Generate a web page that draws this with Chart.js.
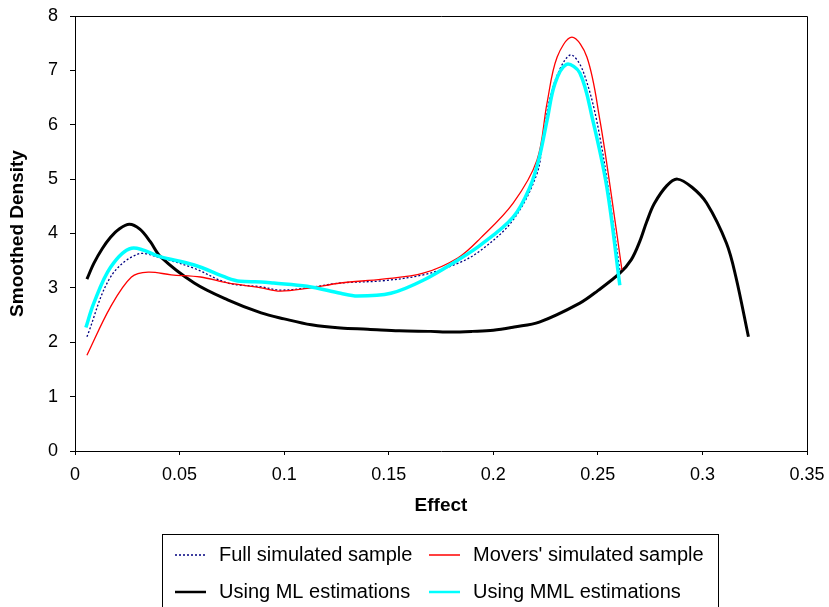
<!DOCTYPE html>
<html>
<head>
<meta charset="utf-8">
<script src="https://cdn.jsdelivr.net/npm/chart.js@4.4.1/dist/chart.umd.min.js"></script>
<style>
  html, body { margin: 0; padding: 0; background: #fff; }
  #wrap { width: 829px; height: 607px; }
</style>
</head>
<body>
<div id="wrap"><canvas id="densityChart" width="829" height="607"></canvas></div>
<script>
// Full simulated sample
const fullX = [0.0057, 0.017, 0.030, 0.041, 0.057, 0.073, 0.089, 0.098, 0.111, 0.127, 0.147, 0.1665, 0.183, 0.194, 0.2095, 0.2209, 0.2238, 0.2285, 0.2366, 0.2428, 0.251, 0.2605];
const fullY = [2.10, 3.20, 3.62, 3.55, 3.36, 3.09, 3.02, 2.96, 3.00, 3.09, 3.13, 3.24, 3.45, 3.69, 4.25, 5.10, 5.77, 6.69, 7.28, 7.00, 5.77, 3.33];

// Movers' simulated sample
const moversX = [0.0057, 0.017, 0.027, 0.035, 0.046, 0.060, 0.073, 0.089, 0.098, 0.111, 0.127, 0.147, 0.1665, 0.183, 0.194, 0.2095, 0.2209, 0.2257, 0.2305, 0.2376, 0.2448, 0.251, 0.257, 0.2615];
const moversY = [1.76, 2.65, 3.20, 3.29, 3.24, 3.20, 3.09, 3.00, 2.94, 2.99, 3.09, 3.16, 3.27, 3.55, 3.92, 4.56, 5.35, 6.40, 7.24, 7.61, 7.24, 6.08, 4.56, 3.33];

// Using ML estimations
const mlX = [0.0057, 0.009, 0.013, 0.017, 0.021, 0.026, 0.031, 0.036, 0.041, 0.057, 0.073, 0.089, 0.100, 0.113, 0.127, 0.140, 0.155, 0.170, 0.180, 0.190, 0.200, 0.210, 0.222, 0.2414, 0.250, 0.2605, 0.266, 0.270, 0.2734, 0.277, 0.283, 0.288, 0.295, 0.302, 0.3115, 0.316, 0.322];
const mlY = [3.16, 3.45, 3.72, 3.93, 4.08, 4.17, 4.08, 3.85, 3.57, 3.09, 2.78, 2.54, 2.43, 2.32, 2.26, 2.24, 2.21, 2.20, 2.19, 2.20, 2.22, 2.28, 2.37, 2.72, 2.95, 3.27, 3.52, 3.85, 4.22, 4.55, 4.88, 5.00, 4.85, 4.56, 3.82, 3.20, 2.10];

// Using MML estimations
const mmlX = [0.0052, 0.009, 0.017, 0.027, 0.041, 0.057, 0.073, 0.079, 0.089, 0.095, 0.111, 0.127, 0.135, 0.151, 0.1665, 0.183, 0.194, 0.2095, 0.2175, 0.222, 0.2257, 0.2295, 0.235, 0.2414, 0.2476, 0.2543, 0.2605];
const mmlY = [2.27, 2.72, 3.38, 3.73, 3.57, 3.42, 3.18, 3.12, 3.11, 3.09, 3.03, 2.90, 2.85, 2.90, 3.14, 3.51, 3.79, 4.30, 4.85, 5.40, 6.08, 6.76, 7.11, 6.95, 6.08, 4.85, 3.05];

const xTicks = [0, 0.05, 0.1, 0.15, 0.2, 0.25, 0.3, 0.35];
const yTicks = [0, 1, 2, 3, 4, 5, 6, 7, 8];

const FONT = "'Liberation Sans', Arial, sans-serif";

function toPoints(xs, ys) {
    return xs.map((x, i) => ({ x: x, y: ys[i] }));
}

// frame round the plot and the boxed legend underneath
const framePlugin = {
    id: 'frame',
    afterDraw(chart) {
        const ctx = chart.ctx;
        const a = chart.chartArea;
        ctx.save();
        ctx.strokeStyle = '#000';
        ctx.lineWidth = 1;
        ctx.beginPath();
        ctx.moveTo(a.left, a.top + 0.5);
        ctx.lineTo(a.right + 0.5, a.top + 0.5);
        ctx.lineTo(a.right + 0.5, a.bottom);
        ctx.stroke();

        // legend box
        const box = { left: 162, top: 534, right: 718, bottom: 610 };
        ctx.strokeRect(box.left + 0.5, box.top + 0.5, box.right - box.left, box.bottom - box.top);

        const cols = [175, 429];
        const rows = [555, 592];
        ctx.font = '20px ' + FONT;
        ctx.textBaseline = 'middle';
        ctx.fillStyle = '#000';
        chart.data.datasets.forEach((ds, i) => {
            const cx = cols[i % 2];
            const cy = rows[Math.floor(i / 2)];
            ctx.beginPath();
            ctx.strokeStyle = ds.borderColor;
            ctx.lineWidth = ds.legendWidth;
            ctx.setLineDash(ds.borderDash || []);
            ctx.moveTo(cx, cy);
            ctx.lineTo(cx + 31, cy);
            ctx.stroke();
            ctx.setLineDash([]);
            ctx.fillText(ds.label, cx + 44, cy);
        });
        ctx.restore();
    }
};

const ctx = document.getElementById('densityChart').getContext('2d');
new Chart(ctx, {
    type: 'line',
    data: {
        datasets: [
            {
                label: 'Full simulated sample',
                data: toPoints(fullX, fullY),
                borderColor: '#000080',
                borderWidth: 1.3,
                borderDash: [2, 2],
                legendWidth: 1.3,
                order: 3
            },
            {
                label: "Movers' simulated sample",
                data: toPoints(moversX, moversY),
                borderColor: '#ff0000',
                borderWidth: 1.3,
                legendWidth: 1.5,
                order: 2
            },
            {
                label: 'Using ML estimations',
                data: toPoints(mlX, mlY),
                borderColor: '#000000',
                borderWidth: 3,
                legendWidth: 2.5,
                order: 4
            },
            {
                label: 'Using MML estimations',
                data: toPoints(mmlX, mmlY),
                borderColor: '#00ffff',
                borderWidth: 3.5,
                legendWidth: 2.5,
                order: 1
            }
        ]
    },
    options: {
        responsive: false,
        animation: false,
        devicePixelRatio: 1,
        layout: { padding: { left: 0, right: 22, top: 16, bottom: 86 } },
        elements: {
            point: { radius: 0 },
            line: { tension: 0.35, fill: false }
        },
        plugins: {
            legend: { display: false },
            tooltip: { enabled: false }
        },
        scales: {
            x: {
                type: 'linear',
                min: 0,
                max: 0.35,
                afterBuildTicks: (scale) => { scale.ticks = xTicks.map(v => ({ value: v })); },
                afterFit: (scale) => {
                    scale.height = 70;
                    scale.paddingLeft = 0;
                    scale.paddingRight = 0;
                },
                ticks: {
                    color: '#000',
                    font: { family: FONT, size: 18 },
                    padding: 9,
                    maxRotation: 0,
                    callback: (v) => String(v)
                },
                grid: { drawOnChartArea: false, drawTicks: true, tickLength: 4, color: '#000' },
                border: { color: '#000', width: 1 },
                title: {
                    display: true,
                    text: 'Effect',
                    color: '#000',
                    font: { family: FONT, size: 19, weight: 'bold' },
                    padding: { top: 4, bottom: 4 }
                }
            },
            y: {
                min: 0,
                max: 8,
                afterBuildTicks: (scale) => { scale.ticks = yTicks.map(v => ({ value: v })); },
                afterFit: (scale) => {
                    scale.width = 75;
                    scale.paddingTop = 0;
                    scale.paddingBottom = 0;
                },
                ticks: {
                    color: '#000',
                    font: { family: FONT, size: 18 },
                    padding: 12
                },
                grid: { drawOnChartArea: false, drawTicks: true, tickLength: 5, color: '#000' },
                border: { color: '#000', width: 1 },
                title: {
                    display: true,
                    text: 'Smoothed Density',
                    color: '#000',
                    font: { family: FONT, size: 19, weight: 'bold' },
                    padding: { top: 6, bottom: 4 }
                }
            }
        }
    },
    plugins: [framePlugin]
});
</script>
</body>
</html>
